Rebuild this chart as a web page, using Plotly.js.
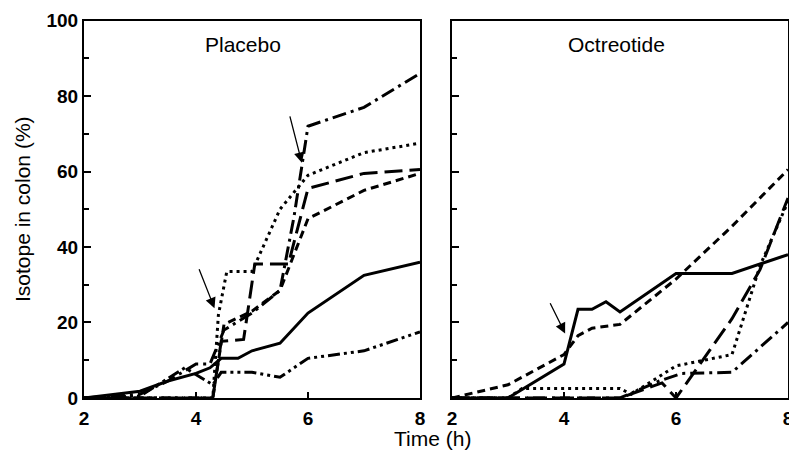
<!DOCTYPE html>
<html>
<head>
<meta charset="utf-8">
<script src="https://cdn.plot.ly/plotly-3.0.1.min.js"></script>
<style>html,body{margin:0;padding:0;background:#fff;}#chart{width:789px;height:450px;}</style>
</head>
<body>
<div id="chart"></div>
<script>
// ---- Placebo panel (time in h, isotope in colon %) ----
const placeboSolidT = [2, 3, 3.5, 4, 4.25, 4.45, 4.75, 5, 5.5, 6, 7, 8];
const placeboSolidV = [0, 1.8, 4.5, 6.5, 8, 10.5, 10.5, 12.5, 14.5, 22.5, 32.5, 36];

const placeboShortDashT = [2, 3, 4, 4.3, 4.5, 5, 5.5, 6, 7, 8];
const placeboShortDashV = [0, 0, 0, 0, 19.5, 23, 28.5, 47.5, 55, 59.5];

const placeboLongDashT = [2, 3, 4, 4.3, 4.45, 4.85, 5.05, 5.65, 6, 7, 8];
const placeboLongDashV = [0, 0, 0, 0, 15, 15.5, 35.5, 35.5, 55.5, 59.5, 60.5];

const placeboDotT = [2, 3, 4, 4.3, 4.4, 4.55, 5, 5.5, 6, 7, 8];
const placeboDotV = [0, 0, 0, 0, 22, 33.5, 33.5, 50, 59, 65, 67.5];

const placeboDashDotT = [2, 3, 3.5, 4, 4.25, 4.5, 5, 5.5, 5.75, 6, 7, 8];
const placeboDashDotV = [0, 1, 4.5, 9, 9, 18, 22.5, 28.5, 48, 72, 77, 86];

const placeboDashDotDotT = [2, 3, 3.8, 4.3, 4.45, 5, 5.5, 6, 7, 8];
const placeboDashDotDotV = [0, 0.5, 8, 3.5, 6.8, 6.8, 5.5, 10.5, 12.5, 17.5];

// ---- Octreotide panel ----
const octSolidT = [2, 3, 4, 4.25, 4.5, 4.75, 5, 6, 7, 8];
const octSolidV = [0, 0, 9, 23.5, 23.5, 25.5, 22.8, 33, 33, 38];

const octShortDashT = [2, 3, 4, 4.25, 4.5, 5, 6, 7, 8];
const octShortDashV = [0, 3.5, 11.5, 16.5, 18.5, 19.5, 31.5, 45.5, 60.5];

const octLongDashT = [2, 3, 4, 5, 5.75, 6, 6.5, 7, 7.5, 8];
const octLongDashV = [0, 0, 0, 0, 4, 0, 10.5, 21, 34, 53];

const octDotT = [2, 3, 3.25, 5, 5.2, 6, 6.5, 7, 7.5, 8];
const octDotV = [0, 0, 2.5, 2.5, 1, 8.5, 10, 11.5, 35, 52];

const octDashDotT = [2, 3, 4, 5, 5.7, 6.1, 7, 8];
const octDashDotV = [0, 0, 0, 0, 4.5, 6.5, 6.8, 20];

// ---- axis ticks & labels ----
const xTickVals = [2, 4, 6, 8];
const yTickVals = [0, 20, 40, 60, 80, 100];
const panelTitles = ['Placebo', 'Octreotide'];
const xTitle = 'Time (h)';
const yTitle = 'Isotope in colon (%)';

// arrows [tailT, tailV, headT, headV]
const placeboArrow1 = [4.045, 34.5, 4.33, 23.8];
const placeboArrow2 = [5.67, 75, 5.89, 62.3];
const octArrow = [3.74, 25.5, 4.02, 17.1];

const LW = 3;
const styles = {
  solid: 'solid',
  shortDash: '8px,5px',
  longDash: '18px,7px',
  dot: '3px,4px',
  dashDot: '14px,5px,3px,5px',
  dashDotDot: '12px,4px,3px,4px,3px,4px'
};
function tr(t, v, dash, xa, ya) {
  return {x: t, y: v, type: 'scatter', mode: 'lines', xaxis: xa, yaxis: ya,
    line: {color: '#000', width: LW, dash: dash}, showlegend: false, hoverinfo: 'skip'};
}
const data = [
  tr(placeboSolidT, placeboSolidV, styles.solid, 'x', 'y'),
  tr(placeboShortDashT, placeboShortDashV, styles.shortDash, 'x', 'y'),
  tr(placeboLongDashT, placeboLongDashV, styles.longDash, 'x', 'y'),
  tr(placeboDotT, placeboDotV, styles.dot, 'x', 'y'),
  tr(placeboDashDotT, placeboDashDotV, styles.dashDot, 'x', 'y'),
  tr(placeboDashDotDotT, placeboDashDotDotV, styles.dashDotDot, 'x', 'y'),
  tr(octSolidT, octSolidV, styles.solid, 'x2', 'y2'),
  tr(octShortDashT, octShortDashV, styles.shortDash, 'x2', 'y2'),
  tr(octLongDashT, octLongDashV, styles.longDash, 'x2', 'y2'),
  tr(octDotT, octDotV, styles.dot, 'x2', 'y2'),
  tr(octDashDotT, octDashDotV, styles.dashDot, 'x2', 'y2')
];

const tickFont = {family: 'Arial, Liberation Sans, sans-serif', size: 19, color: '#000', weight: 'bold'};
const titleFont = {family: 'Arial, Liberation Sans, sans-serif', size: 21, color: '#000'};

function xax(domain, anchor) {
  return {domain: domain, anchor: anchor, range: [2, 8], tickvals: xTickVals, ticks: 'inside',
    ticklen: 6, tickwidth: 2, tickcolor: '#000', showline: true, linecolor: '#000', linewidth: 2,
    mirror: true, showgrid: false, zeroline: false, tickfont: tickFont, fixedrange: true,
    ticklabeloverflow: 'allow', ticklabelstandoff: 2};
}
function yax(anchor, labels) {
  return {domain: [0.1156, 0.9544], anchor: anchor, range: [0, 100], tickvals: yTickVals,
    ticks: 'inside', ticklen: 7, tickwidth: 2, tickcolor: '#000',
    minor: {dtick: 10, tick0: 0, ticks: 'inside', ticklen: 5, tickwidth: 2, tickcolor: '#000', showgrid: false},
    showline: true, linecolor: '#000', linewidth: 2, mirror: true, showgrid: false, zeroline: false,
    showticklabels: labels, tickfont: tickFont, fixedrange: true};
}

const yaxis = yax('x', true);
yaxis.title = {text: yTitle, font: titleFont, standoff: 10};

function arrow(a, xr, yr) {
  return {x: a[2], y: a[3], ax: a[0], ay: a[1], xref: xr, yref: yr, axref: xr, ayref: yr,
    text: '', showarrow: true, arrowhead: 2, arrowsize: 1.6, arrowwidth: 1.3, arrowcolor: '#000', standoff: 0};
}

const layout = {
  width: 789, height: 450,
  margin: {l: 0, r: 0, t: 0, b: 0},
  paper_bgcolor: '#fff', plot_bgcolor: '#fff',
  font: {family: 'Arial, Liberation Sans, sans-serif', color: '#000'},
  xaxis: xax([84 / 789, 420 / 789], 'y'),
  yaxis: yaxis,
  xaxis2: xax([452 / 789, 788 / 789], 'y2'),
  yaxis2: yax('x2', false),
  annotations: [
    {text: panelTitles[0], xref: 'paper', yref: 'paper', x: 242.5 / 789, y: 1 - 45 / 450,
      xanchor: 'center', yanchor: 'middle', showarrow: false, font: titleFont},
    {text: panelTitles[1], xref: 'paper', yref: 'paper', x: 616 / 789, y: 1 - 45 / 450,
      xanchor: 'center', yanchor: 'middle', showarrow: false, font: titleFont},
    {text: xTitle, xref: 'paper', yref: 'paper', x: 433 / 789, y: 1 - 438 / 450,
      xanchor: 'center', yanchor: 'middle', showarrow: false, font: titleFont},
    arrow(placeboArrow1, 'x', 'y'),
    arrow(placeboArrow2, 'x', 'y'),
    arrow(octArrow, 'x2', 'y2')
  ]
};

Plotly.newPlot('chart', data, layout, {staticPlot: true, displayModeBar: false});
</script>
</body>
</html>
